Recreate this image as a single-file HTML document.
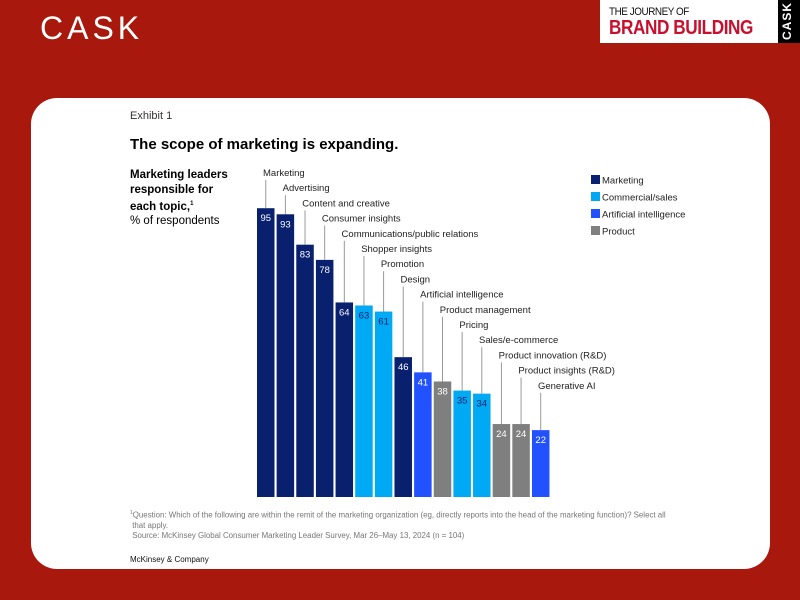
<!DOCTYPE html>
<html><head><meta charset="utf-8"><style>
body{margin:0;width:800px;height:600px;background:#a8180c;position:relative;overflow:hidden;font-family:"Liberation Sans",sans-serif}
.a{position:absolute;white-space:nowrap}
</style></head><body>
<div class="a" style="left:40px;top:10px;font-size:32px;color:#fff;letter-spacing:4px;font-weight:300">CASK</div>
<div class="a" style="left:600px;top:0;width:178px;height:43px;background:#fff">
 <div class="a" style="left:9px;top:6px;font-size:11px;color:#111;letter-spacing:-0.5px;transform:scaleX(0.9);transform-origin:left">THE JOURNEY OF</div>
 <div class="a" style="left:9px;top:17px;font-size:20px;font-weight:bold;color:#c8102e;letter-spacing:-0.5px;transform:scaleX(0.86);transform-origin:left">BRAND BUILDING</div>
</div>
<div class="a" style="left:778px;top:0;width:22px;height:43px;background:#000"><div class="a" style="left:-10px;top:14px;color:#fff;font-size:12px;font-weight:bold;letter-spacing:1px;transform:rotate(-90deg)">CASK</div></div>
<div class="a" style="left:31px;top:98px;width:739px;height:471px;background:#fff;border-radius:26px"></div>
<div class="a" style="left:130px;top:110px;font-size:11px;color:#333">Exhibit 1</div>
<div class="a" style="left:130px;top:136px;font-size:15px;font-weight:bold;color:#000">The scope of marketing is expanding.</div>
<div class="a" style="left:130px;top:168px;font-size:11.5px;line-height:14.5px;color:#000"><b>Marketing leaders<br>responsible for<br>each topic,<sup style="font-size:6px">1</sup></b><br>% of respondents</div>
<svg class="a" style="left:0;top:0" width="800" height="600" id="chart"></svg>
<div class="a" style="left:130px;top:508px;font-size:7.9px;line-height:10px;color:#777"><sup style="font-size:5px">1</sup>Question: Which of the following are within the remit of the marketing organization (eg, directly reports into the head of the marketing function)? Select all<br>&nbsp;that apply.<br>&nbsp;Source: McKinsey Global Consumer Marketing Leader Survey, Mar 26–May 13, 2024 (n = 104)</div>
<div class="a" style="left:130px;top:555px;font-size:8px;color:#111">McKinsey &amp; Company</div>
<script>
const categories=["Marketing","Advertising","Content and creative","Consumer insights","Communications/public relations","Shopper insights","Promotion","Design","Artificial intelligence","Product management","Pricing","Sales/e-commerce","Product innovation (R&D)","Product insights (R&D)","Generative AI"];
const values=[95,93,83,78,64,63,61,46,41,38,35,34,24,24,22];
const groups=["m","m","m","m","m","c","c","m","a","p","c","c","p","p","a"];
const legendLabels=["Marketing","Commercial/sales","Artificial intelligence","Product"];
const legendKeys=["m","c","a","p"];
const colors={m:"#08206e",c:"#00a9f4",a:"#2251ff",p:"#7f7f7f"};
const NS="http://www.w3.org/2000/svg",svg=document.getElementById("chart");
const x0=257,step=19.64,bw=17.5,base=497,k=3.04;
const xs=i=>x0+i*step, ys=v=>base-v*k;
function mk(t,a){const e=document.createElementNS(NS,t);for(const n in a)e.setAttribute(n,a[n]);svg.appendChild(e);return e;}
values.forEach((v,i)=>{
 const x=xs(i),y=ys(v),ly=176+i*15.2;
 const r=mk("rect",{x:x,y:y,width:bw,height:base-y,fill:colors[groups[i]]});
 
 
 const l=mk("line",{x1:x+bw/2,x2:x+bw/2,y1:ly+4,y2:y,stroke:"#999","stroke-width":1});
 
 
 const t=mk("text",{x:x+6,y:ly,"font-size":9.5,fill:"#222","font-family":"Liberation Sans"});t.textContent=categories[i];
 
 
 const vt=mk("text",{x:x+bw/2,y:y+13,"font-size":9.5,"text-anchor":"middle",fill:groups[i]=="c"?"#08206e":"#fff","font-family":"Liberation Sans"});vt.textContent=v;
 
 
});
legendLabels.forEach((s,i)=>{
 const y=175+i*17;
 const r=mk("rect",{x:591,y:y,width:9,height:9,fill:colors[legendKeys[i]]});
 
 
 const t=mk("text",{x:602,y:y+8.5,"font-size":9.5,fill:"#222","font-family":"Liberation Sans"});t.textContent=s;
 
 
});
</script>
</body></html>
